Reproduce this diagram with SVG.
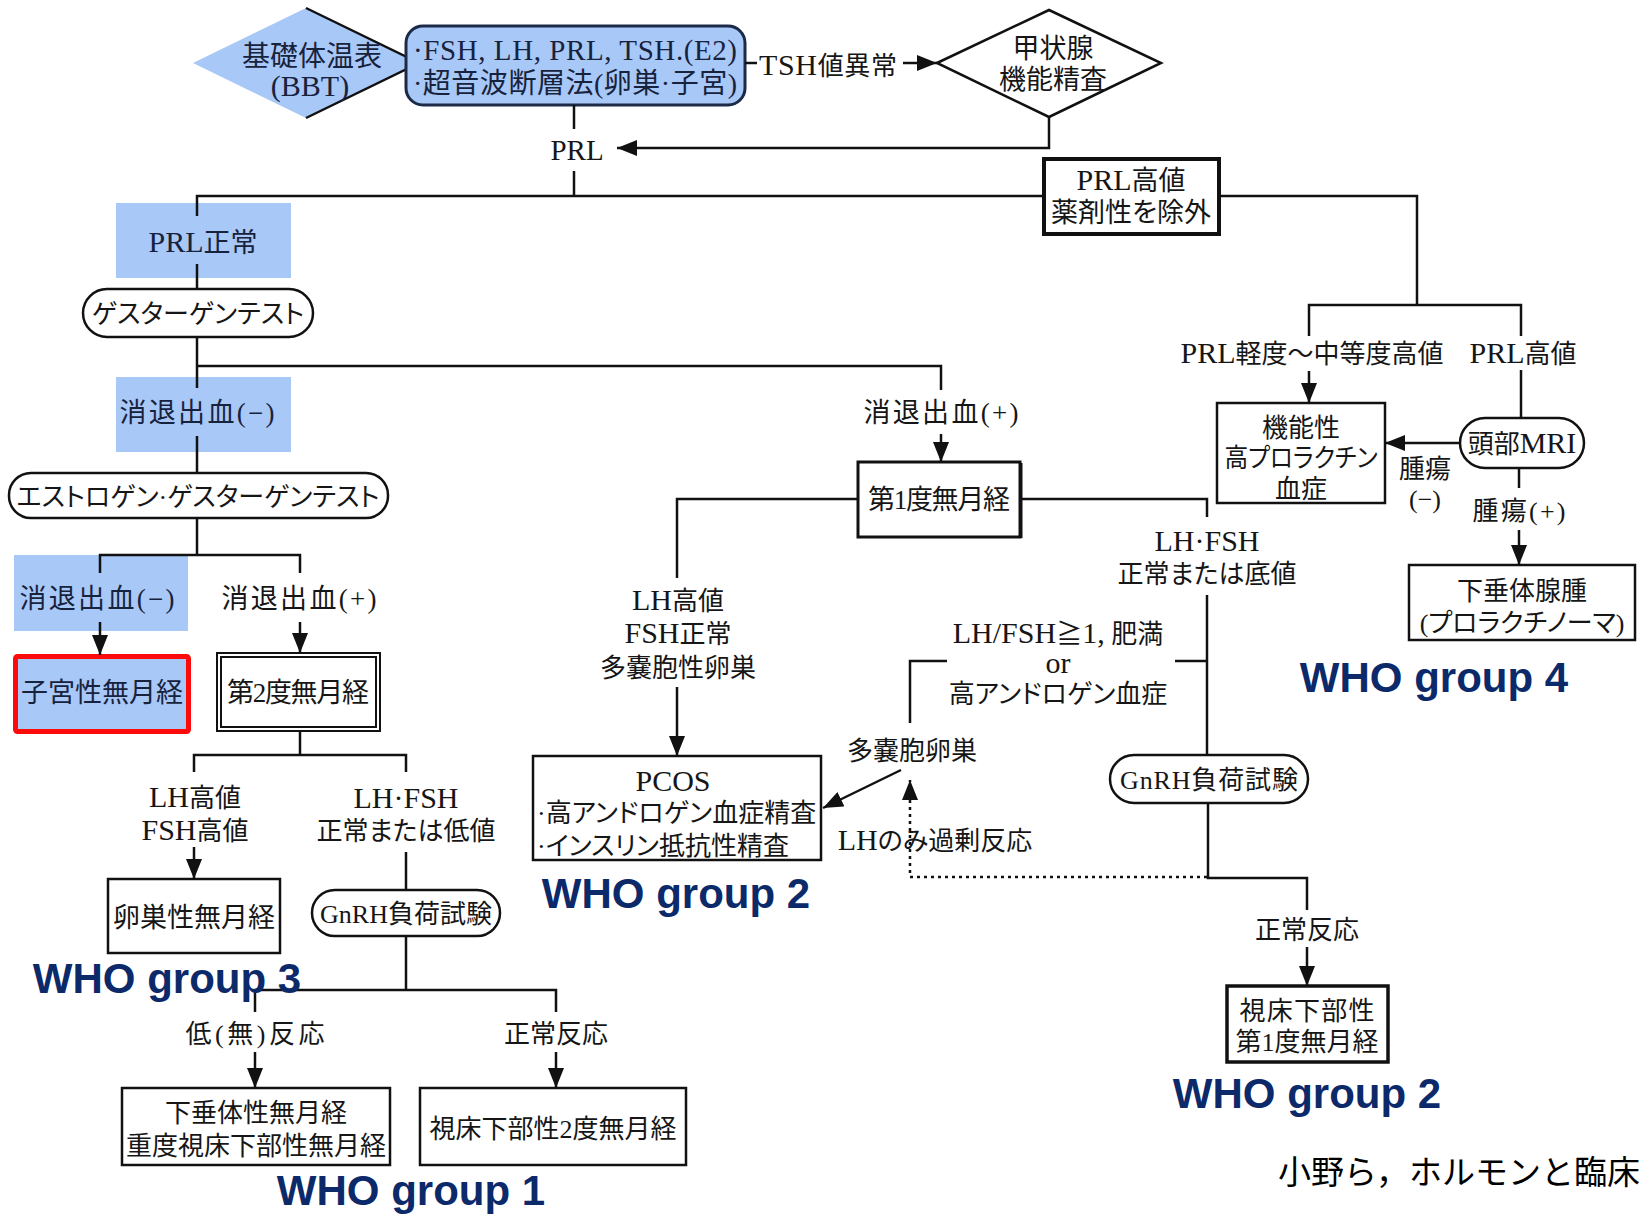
<svg xmlns="http://www.w3.org/2000/svg" width="1640" height="1215" viewBox="0 0 1640 1215">
<defs>
<style>
.t{font-family:"Liberation Serif","Noto Sans CJK JP",serif;font-size:26px;fill:#161616;text-anchor:middle;font-feature-settings:"palt"}
.t27{font-size:27px}
.t28{font-size:28px}
.L{font-size:30px}
.s{text-anchor:start}
.hl{fill:#a8c8f8}
.ht{fill:#17223c}
.box{fill:#fff;stroke:#111;stroke-width:2.5}
.ln{fill:none;stroke:#111;stroke-width:2.5}
.dot{fill:none;stroke:#111;stroke-width:2.5;stroke-dasharray:3 4}
.who{font-family:"Liberation Sans",Arial,sans-serif;font-weight:bold;font-size:42px;fill:#0c2a6a;text-anchor:middle}
.cite{font-family:"Noto Sans CJK JP","Noto Sans",sans-serif;font-size:33px;fill:#000;text-anchor:end}
</style>
<marker id="arr" viewBox="0 0 20 16" refX="20" refY="8" markerWidth="20" markerHeight="16" markerUnits="userSpaceOnUse" orient="auto">
<path d="M0,0 L20,8 L0,16 Z" fill="#111"/>
</marker>
</defs>
<rect width="1640" height="1215" fill="#fff"/>

<!-- nodes -->
<g id="n-bbt">
<polygon points="193,63 306,8 419,63 306,118" class="hl"/>
<polyline points="306,8 419,63 306,118" fill="none" stroke="#111" stroke-width="2.5"/>
<text class="t t28 ht" x="312" y="66">基礎体温表</text>
<text class="t ht L" x="310" y="96">(BBT)</text>
</g>
<g id="n-tests">
<rect x="406" y="26" width="339" height="79" rx="17" class="hl" stroke="#1c2a48" stroke-width="3"/>
<text class="t ht s" x="413" y="60" textLength="324" lengthAdjust="spacing" style="font-size:29px">·FSH, LH, PRL, TSH.(E2)</text>
<text class="t t28 ht s" x="413" y="93" textLength="324" lengthAdjust="spacing">·超音波断層法(卵巣·子宮)</text>
</g>
<g id="n-tsh-label">
<text class="t s" x="759" y="75" textLength="138" lengthAdjust="spacing"><tspan class="L">TSH</tspan>値異常</text>
</g>
<g id="n-thyroid">
<polygon points="937,63 1049,10 1161,63 1049,117" fill="#fff" stroke="#111" stroke-width="2.5"/>
<text class="t t27" x="1053" y="58">甲状腺</text>
<text class="t t27" x="1053" y="89">機能精査</text>
</g>
<g id="n-prl">
<text class="t" x="577" y="160" style="font-size:29px">PRL</text>
</g>
<g id="n-prl-high">
<rect x="1044" y="159" width="175" height="75" fill="#fff" stroke="#111" stroke-width="4"/>
<text class="t t27" x="1131" y="190"><tspan class="L">PRL</tspan>高値</text>
<text class="t t27" x="1131" y="222">薬剤性を除外</text>
</g>
<g id="n-prl-normal">
<rect x="116" y="203" width="175" height="75" class="hl"/>
<text class="t t27 ht" x="203" y="252"><tspan class="L">PRL</tspan>正常</text>
</g>
<g id="n-gestagen">
<rect x="83" y="289" width="230" height="48" rx="24" class="box"/>
<text class="t" x="198" y="323">ゲスターゲンテスト</text>
</g>
<g id="n-wb1-neg">
<rect x="116" y="377" width="175" height="75" class="hl"/>
<text class="t t27 ht" x="197" y="422" textLength="155" lengthAdjust="spacing">消退出血(−)</text>
</g>
<g id="n-wb1-pos">
<text class="t t27" x="941" y="422" textLength="155" lengthAdjust="spacing">消退出血(+)</text>
</g>
<g id="n-eg">
<rect x="9" y="473" width="379" height="45" rx="22" class="box"/>
<text class="t" x="198" y="506">エストロゲン·ゲスターゲンテスト</text>
</g>
<g id="n-wb2-neg">
<rect x="14" y="555" width="174" height="76" class="hl"/>
<text class="t t27 ht" x="97" y="608" textLength="155" lengthAdjust="spacing">消退出血(−)</text>
</g>
<g id="n-wb2-pos">
<text class="t t27" x="299" y="608" textLength="155" lengthAdjust="spacing">消退出血(+)</text>
</g>
<g id="n-uterine">
<rect x="15.5" y="656.5" width="173" height="75" fill="#a8c8f8" stroke="#ff0a0a" stroke-width="5" rx="2"/>
<text class="t t27 ht" x="102" y="702">子宮性無月経</text>
</g>
<g id="n-second">
<rect x="217" y="653" width="163" height="78" fill="#fff" stroke="#111" stroke-width="2"/>
<rect x="221" y="657" width="155" height="70" fill="none" stroke="#111" stroke-width="2"/>
<text class="t t27" x="298" y="702" textLength="142" lengthAdjust="spacing">第2度無月経</text>
</g>
<g id="n-lh-high">
<text class="t" x="195" y="807"><tspan class="L">LH</tspan>高値</text>
<text class="t" x="195" y="840"><tspan class="L">FSH</tspan>高値</text>
</g>
<g id="n-lhfsh-low">
<text class="t L" x="406" y="808">LH·FSH</text>
<text class="t" x="406" y="840">正常または低値</text>
</g>
<g id="n-ovarian">
<rect x="108" y="879" width="172" height="74" class="box"/>
<text class="t t27" x="194" y="927">卵巣性無月経</text>
</g>
<g id="n-gnrh1">
<rect x="312" y="890" width="188" height="46" rx="23" class="box"/>
<text class="t" x="406" y="923">GnRH負荷試験</text>
</g>
<g id="n-low-resp">
<text class="t" x="255" y="1043" textLength="139" lengthAdjust="spacing">低(無)反応</text>
</g>
<g id="n-normal-resp1">
<text class="t" x="556" y="1043">正常反応</text>
</g>
<g id="n-pituitary">
<rect x="122" y="1088" width="268" height="77" class="box"/>
<text class="t" x="256" y="1122">下垂体性無月経</text>
<text class="t" x="256" y="1155">重度視床下部性無月経</text>
</g>
<g id="n-hypo2">
<rect x="420" y="1088" width="266" height="77" class="box"/>
<text class="t" x="553" y="1138">視床下部性2度無月経</text>
</g>
<g id="n-first">
<rect x="858" y="462" width="162" height="75" fill="#fff" stroke="#111" stroke-width="3"/>
<line x1="1021.5" y1="463" x2="1021.5" y2="538" stroke="#111" stroke-width="2"/>
<text class="t t27" x="939" y="509" textLength="142" lengthAdjust="spacing">第1度無月経</text>
</g>
<g id="n-pcos-label">
<text class="t" x="678" y="610"><tspan class="L">LH</tspan>高値</text>
<text class="t" x="678" y="643"><tspan class="L">FSH</tspan>正常</text>
<text class="t" x="678" y="677">多嚢胞性卵巣</text>
</g>
<g id="n-pcos">
<rect x="533" y="756" width="288" height="104" class="box"/>
<text class="t L" x="673" y="791">PCOS</text>
<text class="t s" x="537" y="822">·高アンドロゲン血症精査</text>
<text class="t s" x="537" y="855">·インスリン抵抗性精査</text>
</g>
<g id="n-lhfsh-base">
<text class="t L" x="1207" y="551">LH·FSH</text>
<text class="t" x="1207" y="583">正常または底値</text>
</g>
<g id="n-lhfsh-ratio">
<text class="t" x="1058" y="643"><tspan class="L">LH/FSH</tspan>≧<tspan class="L">1,</tspan> 肥満</text>
<text class="t L" x="1058" y="673">or</text>
<text class="t" x="1058" y="703">高アンドロゲン血症</text>
</g>
<g id="n-polycystic">
<text class="t" x="912" y="760">多嚢胞卵巣</text>
</g>
<g id="n-lh-only">
<text class="t" x="935" y="850"><tspan class="L">LH</tspan>のみ過剰反応</text>
</g>
<g id="n-gnrh2">
<rect x="1110" y="755" width="198" height="48" rx="24" class="box"/>
<text class="t" x="1209" y="789" textLength="178" lengthAdjust="spacing">GnRH負荷試験</text>
</g>
<g id="n-normal-resp2">
<text class="t" x="1307" y="939">正常反応</text>
</g>
<g id="n-hypo1">
<rect x="1227" y="986" width="161" height="76" fill="#fff" stroke="#111" stroke-width="3.5"/>
<text class="t" x="1307" y="1020" textLength="135" lengthAdjust="spacing">視床下部性</text>
<text class="t" x="1307" y="1051">第1度無月経</text>
</g>
<g id="n-prl-mild">
<text class="t" x="1312" y="363"><tspan class="L">PRL</tspan>軽度〜中等度高値</text>
</g>
<g id="n-prl-high2">
<text class="t" x="1523" y="363"><tspan class="L">PRL</tspan>高値</text>
</g>
<g id="n-functional">
<rect x="1217" y="403" width="168" height="100" class="box"/>
<text class="t" x="1301" y="437">機能性</text>
<text class="t" x="1301" y="467" textLength="153" lengthAdjust="spacingAndGlyphs">高プロラクチン</text>
<text class="t" x="1301" y="498">血症</text>
</g>
<g id="n-mri">
<rect x="1460" y="418" width="124" height="50" rx="25" class="box"/>
<text class="t" x="1522" y="453">頭部<tspan class="L">MRI</tspan></text>
</g>
<g id="n-tumor-neg">
<text class="t" x="1425" y="478">腫瘍</text>
<text class="t" x="1425" y="508">(−)</text>
</g>
<g id="n-tumor-pos">
<text class="t" x="1519" y="520" textLength="93" lengthAdjust="spacing">腫瘍(+)</text>
</g>
<g id="n-adenoma">
<rect x="1409" y="565" width="226" height="75" class="box"/>
<text class="t" x="1522" y="600">下垂体腺腫</text>
<text class="t" x="1522" y="632">(プロラクチノーマ)</text>
</g>

<!-- connectors -->
<g id="connectors">
<path class="ln" d="M745,63 H757"/>
<path class="ln" d="M903,63 H937" marker-end="url(#arr)"/>
<path class="ln" d="M1049,117 V148 H617" marker-end="url(#arr)"/>
<path class="ln" d="M574,105 V129"/>
<path class="ln" d="M574,171 V196"/>
<path class="ln" d="M197,216 V196 H1044"/>
<path class="ln" d="M1219,196 H1417 V305"/>
<path class="ln" d="M1309,336 V305 H1521 V336"/>
<path class="ln" d="M1309,371 V403" marker-end="url(#arr)"/>
<path class="ln" d="M1521,370 V418"/>
<path class="ln" d="M1460,443 H1385" marker-end="url(#arr)"/>
<path class="ln" d="M1519,468 V488"/>
<path class="ln" d="M1519,530 V565" marker-end="url(#arr)"/>
<path class="ln" d="M197,264 V289"/>
<path class="ln" d="M197,337 V388"/>
<path class="ln" d="M197,366 H941 V390"/>
<path class="ln" d="M941,434 V462" marker-end="url(#arr)"/>
<path class="ln" d="M197,436 V473"/>
<path class="ln" d="M197,518 V555"/>
<path class="ln" d="M100,573 V555 H300 V573"/>
<path class="ln" d="M100,622 V655" marker-end="url(#arr)"/>
<path class="ln" d="M300,622 V653" marker-end="url(#arr)"/>
<path class="ln" d="M300,731 V755"/>
<path class="ln" d="M194,772 V755 H406 V772"/>
<path class="ln" d="M194,847 V879" marker-end="url(#arr)"/>
<path class="ln" d="M406,852 V890"/>
<path class="ln" d="M406,936 V990"/>
<path class="ln" d="M255,1012 V990 H556 V1012"/>
<path class="ln" d="M255,1052 V1088" marker-end="url(#arr)"/>
<path class="ln" d="M556,1052 V1088" marker-end="url(#arr)"/>
<path class="ln" d="M858,499 H677 V578"/>
<path class="ln" d="M677,687 V756" marker-end="url(#arr)"/>
<path class="ln" d="M1020,499 H1207 V517"/>
<path class="ln" d="M1207,595 V755"/>
<path class="ln" d="M1175,661 H1207"/>
<path class="ln" d="M947,661 H910 V723"/>
<path class="ln" d="M901,770 L823,808" marker-end="url(#arr)"/>
<path class="dot" d="M1207,877 H910 V780" marker-end="url(#arr)"/>
<path class="ln" d="M1208,803 V878 H1307 V910"/>
<path class="ln" d="M1307,947 V986" marker-end="url(#arr)"/>
</g>

<!-- annotations -->
<g id="who-labels">
<text class="who" x="1434" y="692">WHO group 4</text>
<text class="who" x="676" y="908">WHO group 2</text>
<text class="who" x="167" y="993">WHO group 3</text>
<text class="who" x="411" y="1205">WHO group 1</text>
<text class="who" x="1307" y="1108">WHO group 2</text>
</g>
<g id="citation">
<text class="cite" x="1640" y="1184">小野ら，ホルモンと臨床</text>
</g>
</svg>
